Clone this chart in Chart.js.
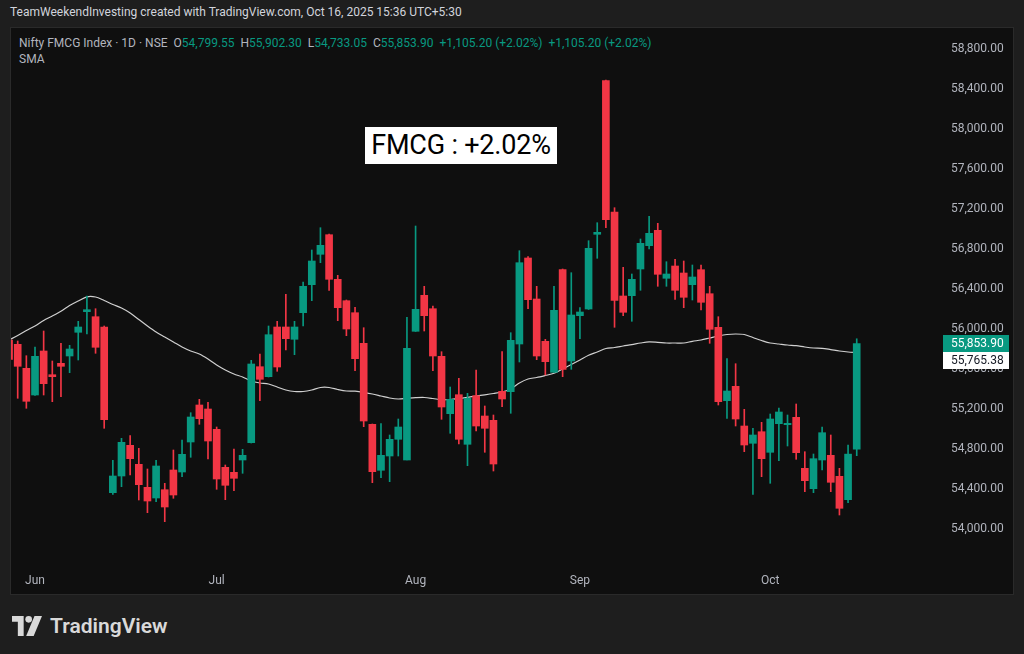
<!DOCTYPE html>
<html>
<head>
<meta charset="utf-8">
<script src="https://cdn.jsdelivr.net/npm/chart.js@4.4.1/dist/chart.umd.min.js"></script>
<style>
  html, body { margin: 0; padding: 0; }
  body { width: 1024px; height: 654px; background: #1e1e1e; position: relative; overflow: hidden; font-family: Roboto, "Noto Sans", sans-serif; }
  #panel { position: absolute; left: 10px; top: 27px; width: 1004px; height: 568px; background: #0f0f0f; border: 1px solid #2a2a2a; box-sizing: border-box; }
  #chart { position: absolute; left: 0; top: 0; }
  .t { position: absolute; white-space: nowrap; }
  #header { left: 10px; top: 5px; font-size: 12px; color: #d1d4dc; }
  #legend { left: 19px; top: 36px; font-size: 12px; color: #b2b5be; }
  #legend .g { color: #089981; }
  #sma { left: 19px; top: 52px; font-size: 12px; color: #b2b5be; }
  #note { left: 365px; top: 127px; width: 192px; height: 37px; background: #fff; color: #000; font-size: 27px; line-height: 37px; text-align: center; letter-spacing: -0.2px; }
  #logo { left: 12px; top: 614px; font-size: 21px; font-weight: 600; color: #d9d9d9; display: flex; align-items: center; }
</style>
</head>
<body>
<div id="panel"></div>
<div class="t" id="header">TeamWeekendInvesting created with TradingView.com, Oct 16, 2025 15:36 UTC+5:30</div>
<div class="t" id="legend"></div>
<div class="t" id="sma">SMA</div>
<div class="t" id="note">FMCG : +2.02%</div>
<div class="t" id="logo">
  <svg width="30" height="20" viewBox="0 0 36 24" style="margin-right:8px">
    <path d="M0 0 H14 V24 H7 V7 H0 Z" fill="#d9d9d9"/>
    <circle cx="20" cy="4" r="4" fill="#d9d9d9"/>
    <path d="M27 0 H36 L26 24 H17 Z" fill="#d9d9d9"/>
  </svg>
  <span>TradingView</span>
</div>
<canvas id="chart" width="1024" height="654"></canvas>

<script>
const dates = [
  '2025-05-28','2025-05-29','2025-05-30',
  '2025-06-02','2025-06-03','2025-06-04','2025-06-05','2025-06-06','2025-06-09','2025-06-10','2025-06-11','2025-06-12','2025-06-13',
  '2025-06-16','2025-06-17','2025-06-18','2025-06-19','2025-06-20','2025-06-23','2025-06-24','2025-06-25','2025-06-26','2025-06-27','2025-06-30',
  '2025-07-01','2025-07-02','2025-07-03','2025-07-04','2025-07-07','2025-07-08','2025-07-09','2025-07-10','2025-07-11','2025-07-14','2025-07-15',
  '2025-07-16','2025-07-17','2025-07-18','2025-07-21','2025-07-22','2025-07-23','2025-07-24','2025-07-25','2025-07-28','2025-07-29','2025-07-30','2025-07-31',
  '2025-08-01','2025-08-04','2025-08-05','2025-08-06','2025-08-07','2025-08-08','2025-08-11','2025-08-12','2025-08-13','2025-08-14',
  '2025-08-18','2025-08-19','2025-08-20','2025-08-21','2025-08-22','2025-08-25','2025-08-26','2025-08-28','2025-08-29',
  '2025-09-01','2025-09-02','2025-09-03','2025-09-04','2025-09-05','2025-09-08','2025-09-09','2025-09-10','2025-09-11','2025-09-12',
  '2025-09-15','2025-09-16','2025-09-17','2025-09-18','2025-09-19','2025-09-22','2025-09-23','2025-09-24','2025-09-25','2025-09-26','2025-09-29','2025-09-30',
  '2025-10-01','2025-10-03','2025-10-06','2025-10-07','2025-10-08','2025-10-09','2025-10-10','2025-10-13','2025-10-14','2025-10-15','2025-10-16'
];

const opens = [
  55890,55847,55607,55340,55780,55543,55657,55730,55967,56173,
  56123,56020,54363,54530,54837,54647,54417,54310,54393,54590,
  54570,54870,55240,55200,54997,54617,54567,54690,54863,55623,
  55523,56020,56020,55897,56163,56443,56747,56943,56497,56283,
  56163,55857,55047,54587,54730,54897,54690,55977,56337,56203,
  55727,55153,55343,54847,55333,55130,55087,55377,55373,55850,
  56710,56300,55877,55567,56593,55680,56133,56200,56947,58483,
  57170,56330,56333,56600,56833,56987,56507,56630,56560,56443,
  56593,56353,56017,55283,55427,55030,54857,54973,54767,55053,
  55043,55117,54607,54403,54690,54737,54527,54293,54799.55
];
const highs = [
  55900,55880,55733,55820,55980,55680,55857,55837,56077,56330,
  56203,56030,54687,54907,54933,54807,54600,54687,54457,54790,
  54890,55163,55297,55267,55020,54640,54800,54797,55687,55750,
  56030,56077,56347,56077,56470,56790,57013,56950,56537,56290,
  56217,56013,55050,55053,54940,55100,56117,57030,56427,56230,
  55773,55420,55507,55357,55590,55230,55140,55773,55963,56783,
  56723,56427,55897,56427,56600,56563,56213,56883,57063,58490,
  57213,56617,56550,56900,57127,57057,56673,56697,56680,56640,
  56640,56427,56123,55703,55653,55197,55007,55067,55150,55210,
  55140,55250,54773,54750,55020,54940,54607,54840,55902.30
];
const lows = [
  55690,55307,55207,55335,55340,55273,55323,55563,55690,55950,
  55757,55007,54347,54423,54540,54290,54163,54273,54073,54307,
  54523,54717,55047,54700,54397,54293,54383,54557,54860,55283,
  55520,55577,55790,55743,56030,56283,56663,56387,56083,55933,
  55583,55023,54463,54513,54473,54730,54690,55975,55980,55583,
  55097,54957,54850,54633,54980,54767,54580,55223,55157,55670,
  56203,55693,55540,55565,55523,55597,55903,56195,56707,57013,
  56017,56133,56077,56387,56800,56427,56427,56297,56213,56290,
  56190,55857,55240,55107,55030,54773,54347,54523,54457,54683,
  54830,54697,54373,54363,54590,54373,54140,54263,54733.05
];
const closes = [
  55697,55627,55277,55727,55453,55523,55627,55800,56020,56193,
  55817,55093,54530,54867,54703,54443,54280,54630,54220,54340,
  54747,55120,55103,54880,54500,54437,54507,54737,55650,55497,
  55943,55620,55903,56020,56427,56680,56837,56497,56213,56000,
  55703,55080,54573,54737,54897,55020,55807,56197,56133,55730,
  55220,55297,54897,55307,55030,55007,54650,55300,55887,56663,
  56293,55730,55673,56187,55597,56140,56170,56807,56967,57093,
  56287,56167,56497,56857,56957,56547,56550,56387,56317,56520,
  56267,55997,55273,55380,55100,54840,54940,54703,55100,55170,
  55057,54763,54483,54703,54963,54467,54207,54748.70,55853.90
];
// moving average line
const sma = [
  55890,55935,55985,56030,56085,56130,56178,56235,56280,56322,
  56320,56285,56245,56210,56160,56095,56030,55970,55920,55870,
  55820,55780,55750,55700,55640,55590,55550,55520,55480,55460,
  55450,55420,55390,55375,55375,55390,55415,55415,55395,55380,
  55378,55367,55350,55330,55310,55300,55307,55313,55315,55305,
  55292,55295,55305,55317,55330,55342,55355,55370,55400,55460,
  55500,55515,55535,55557,55600,55645,55690,55737,55770,55805,
  55815,55830,55844,55860,55872,55867,55860,55860,55860,55877,
  55890,55910,55930,55945,55950,55945,55915,55885,55860,55850,
  55840,55833,55820,55810,55807,55794,55780,55770,55765.38
];
const priceTicks = [54000,54400,54800,55200,55600,56000,56400,56800,57200,57600,58000,58400,58800];
const monthNames = ['Jan','Feb','Mar','Apr','May','Jun','Jul','Aug','Sep','Oct','Nov','Dec'];

const UP = '#089981';
const DOWN = '#f23645';

// first trading day of each month gets a label
const monthTicks = [];
dates.forEach((d, i) => {
  if (i > 0 && d.slice(5, 7) !== dates[i - 1].slice(5, 7)) monthTicks.push(i);
});

const colors = closes.map((c, i) => c >= opens[i] ? UP : DOWN);
const fmt = v => v.toLocaleString('en-US', { minimumFractionDigits: 2, maximumFractionDigits: 2 });

// legend line
const last = closes.length - 1;
const chg = closes[last] - closes[last - 1];
const pct = chg / closes[last - 1] * 100;
const chgTxt = (chg >= 0 ? '+' : '') + fmt(chg) + ' (' + (chg >= 0 ? '+' : '') + pct.toFixed(2) + '%)';
document.getElementById('legend').innerHTML =
  'Nifty FMCG Index · 1D · NSE&nbsp; O<span class="g">' + fmt(opens[last]) +
  '</span>&nbsp; H<span class="g">' + fmt(highs[last]) +
  '</span>&nbsp; L<span class="g">' + fmt(lows[last]) +
  '</span>&nbsp; C<span class="g">' + fmt(closes[last]) +
  '</span>&nbsp; <span class="g">' + chgTxt + '</span>&nbsp; <span class="g">' + chgTxt + '</span>';

const lastLabels = {
  id: 'lastLabels',
  afterDraw(chart) {
    const ctx = chart.ctx;
    const y = chart.scales.y;
    const yc = y.getPixelForValue(closes[last]);
    let ys = y.getPixelForValue(sma[last]);
    if (ys < yc + 17) ys = yc + 17;
    const box = (cy, bg, fg, txt) => {
      ctx.fillStyle = bg;
      ctx.fillRect(943, Math.round(cy - 8.5), 66, 17);
      ctx.fillStyle = fg;
      ctx.font = '12px Roboto';
      ctx.textBaseline = 'middle';
      ctx.textAlign = 'left';
      ctx.fillText(txt, 951, cy + 0.5);
    };
    box(yc, UP, '#ffffff', fmt(closes[last]));
    box(ys, '#ffffff', '#131722', fmt(sma[last]));
  }
};

new Chart(document.getElementById('chart'), {
  type: 'bar',
  data: {
    datasets: [
      {
        label: 'body',
        data: opens.map((o, i) => ({ x: i, y: [o, closes[i]] })),
        backgroundColor: colors,
        barThickness: 7,
        minBarLength: 1,
        grouped: false,
        clip: 0,
        order: 0
      },
      {
        label: 'wick',
        data: lows.map((l, i) => ({ x: i, y: [l, highs[i]] })),
        backgroundColor: colors,
        barThickness: 1,
        grouped: false,
        clip: 0,
        order: 1
      },
      {
        type: 'line',
        label: 'SMA',
        data: sma.map((v, i) => ({ x: i, y: v })),
        borderColor: '#d0d0d0',
        borderWidth: 1.2,
        pointRadius: 0,
        tension: 0.3,
        clip: 0,
        order: 2
      }
    ]
  },
  options: {
    responsive: false,
    animation: false,
    events: [],
    layout: { padding: { left: 11, top: 30, right: 11, bottom: 59 } },
    plugins: { legend: { display: false }, tooltip: { enabled: false } },
    scales: {
      x: {
        type: 'linear',
        offset: false,
        min: 0.225,
        max: 107.05,
        grid: { display: false, drawTicks: false },
        border: { display: false },
        afterBuildTicks: s => { s.ticks = monthTicks.map(v => ({ value: v })); },
        afterFit: s => { s.height = 30; },
        ticks: {
          autoSkip: false,
          maxRotation: 0,
          padding: 9,
          color: '#b2b5be',
          font: { family: 'Roboto', size: 12 },
          callback: v => monthNames[parseInt(dates[v].slice(5, 7), 10) - 1]
        }
      },
      y: {
        position: 'right',
        min: 53640,
        max: 58990,
        grid: { display: false, drawTicks: false },
        border: { display: false },
        afterBuildTicks: s => { s.ticks = priceTicks.map(v => ({ value: v })); },
        afterFit: s => { s.width = 78; },
        ticks: {
          padding: 16,
          color: '#b2b5be',
          font: { family: 'Roboto', size: 12 },
          callback: v => fmt(v)
        }
      }
    }
  },
  plugins: [lastLabels]
});
</script>
</body>
</html>
